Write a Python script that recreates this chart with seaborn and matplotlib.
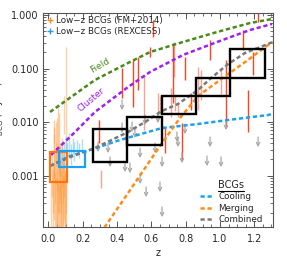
import numpy as np
import pandas as pd
import matplotlib
matplotlib.use("Agg")
import matplotlib.pyplot as plt
import seaborn as sns
from matplotlib.patches import Rectangle
from matplotlib.lines import Line2D

# ---------------- data ----------------
# model curves (z, value)
field_z = [0.009, 0.271, 0.464, 0.592, 0.784, 0.983, 1.175, 1.303]
field_v = [0.0154, 0.061, 0.127, 0.203, 0.313, 0.481, 0.708, 0.842]

cluster_z = [0.015, 0.143, 0.271, 0.464, 0.592, 0.784, 0.983, 1.175, 1.303]
cluster_v = [0.00242, 0.00597, 0.0154, 0.0451, 0.0861, 0.179, 0.313, 0.525, 0.679]

cool_z = [0.009, 0.125, 0.242, 0.417, 0.662, 0.872, 1.047, 1.280, 1.303]
cool_v = [0.00151, 0.00231, 0.0030, 0.00461, 0.00773, 0.00918, 0.0109, 0.0135, 0.0141]

merge_z = [0.30, 0.329, 0.464, 0.563, 0.662, 0.767, 0.872, 1.0, 1.146, 1.28, 1.31]
merge_v = [6e-5, 1.1e-4, 4.7e-4, 0.00138, 0.00405, 0.0119, 0.0306, 0.061, 0.132, 0.275, 0.31]

comb_z = [0.009, 0.125, 0.271, 0.464, 0.563, 0.662, 0.755, 0.872, 0.948, 1.047, 1.146, 1.28, 1.303]
comb_v = [0.00151, 0.0022, 0.00327, 0.0065, 0.0100, 0.0161, 0.0217, 0.0396, 0.0664, 0.121, 0.195, 0.287, 0.31]

# binned boxes (z range, value range)
box_z0 = [0.26, 0.46, 0.66, 0.86, 1.06]
box_z1 = [0.46, 0.66, 0.86, 1.06, 1.26]
box_lo = [0.0018, 0.0037, 0.0141, 0.0306, 0.066]
box_hi = [0.0074, 0.0124, 0.0306, 0.066, 0.231]

fm_box = [0.01, 0.11, 0.00076, 0.0027]
rex_box = [0.06, 0.21, 0.00144, 0.0029]

# high-z BCG detections (bright)
red_z = [0.294, 0.429, 0.493, 0.522, 0.592, 0.609, 0.679, 0.726, 0.778, 0.796, 0.831,
         0.942, 1.035, 1.134, 1.163, 1.192, 1.222]
red_lo = [0.00408, 0.028, 0.019, 0.0397, 0.164, 0.388, 0.00266, 0.0227, 0.00192, 0.061, 0.0168,
          0.144, 0.0081, 0.222, 0.0065, 0.0755, 0.74]
red_hi = [0.0109, 0.1025, 0.144, 0.164, 0.252, 0.81, 0.0081, 0.30, 0.0095, 0.164, 0.0348,
          0.341, 0.144, 0.524, 0.0397, 0.203, 1.5]

# fainter detections
pink_z = [0.306, 0.557, 0.638, 0.65, 0.714, 0.732, 0.738, 0.755, 0.872, 0.889, 1.006]
pink_lo = [0.00058, 0.0071, 0.0125, 0.014, 0.0125, 0.0695, 0.016, 0.0125, 0.0168, 0.0257, 0.0294]
pink_hi = [0.00127, 0.0755, 0.0348, 0.030, 0.0432, 0.313, 0.030, 0.0227, 0.107, 0.094, 0.094]

# upper limits
lim_z = [0.289, 0.347, 0.359, 0.429, 0.429, 0.446, 0.475, 0.487, 0.504, 0.534, 0.534, 0.563,
         0.569, 0.621, 0.638, 0.662, 0.662, 0.650, 0.749, 0.755, 0.796, 0.778, 0.942, 0.924,
         1.006, 1.035, 1.222]
lim_v = [0.00423, 0.00405, 0.00222, 0.0258, 0.00958, 0.00179, 0.00171, 0.0100, 0.00773, 0.00327,
         0.00107, 0.0135, 0.00061, 0.00405, 0.0147, 0.00222, 0.000258, 0.000756, 0.0065, 0.00525,
         0.00918, 0.00263, 0.00525, 0.00231, 0.00222, 0.0109, 0.00525]

# low-z samples
fm_z = [0.015, 0.02, 0.025, 0.03, 0.035, 0.04, 0.045, 0.045, 0.05, 0.055, 0.058, 0.06, 0.065,
        0.068, 0.07, 0.075, 0.08, 0.085, 0.09, 0.095, 0.10, 0.105, 0.035, 0.088,
        0.028, 0.038, 0.048, 0.052, 0.062, 0.072, 0.078, 0.082, 0.092, 0.098, 0.042, 0.066,
        0.056, 0.074, 0.086, 0.102, 0.033, 0.064]
fm_lo = [0.0001, 0.0004, 0.00009, 0.0008, 0.00015, 0.0003, 0.00009, 0.0015, 0.0005, 0.0002, 0.002,
         0.00009, 0.001, 0.00009, 0.0003, 0.00009, 0.0006, 0.00012, 0.0004, 0.00009, 0.003, 0.0002,
         0.004, 0.006,
         0.0002, 0.00009, 0.0001, 0.00009, 0.0002, 0.00009, 0.0001, 0.00009, 0.00015, 0.00009,
         0.0007, 0.0005, 0.00009, 0.0002, 0.0003, 0.00009, 0.0009, 0.0012]
fm_hi = [0.0008, 0.003, 0.0012, 0.006, 0.0015, 0.0025, 0.0009, 0.01, 0.012, 0.002, 0.02, 0.0014,
         0.004, 0.0006, 0.003, 0.0007, 0.005, 0.0018, 0.0028, 0.0011, 0.25, 0.002, 0.011, 0.03,
         0.0016, 0.0011, 0.0013, 0.0009, 0.0019, 0.0012, 0.0015, 0.001, 0.0017, 0.0012,
         0.004, 0.0035, 0.0008, 0.0022, 0.0026, 0.0013, 0.008, 0.015]

rex_z = [0.07, 0.08, 0.09, 0.10, 0.11, 0.12, 0.13, 0.14, 0.15, 0.165, 0.18, 0.195]
rex_lo = [0.0013, 0.0016, 0.0014, 0.0020, 0.0018, 0.0022, 0.0016, 0.0025, 0.0019, 0.0024, 0.0021, 0.0026]
rex_hi = [0.003, 0.0035, 0.0045, 0.0055, 0.004, 0.0062, 0.0038, 0.005, 0.0042, 0.0046, 0.0040, 0.0048]

yticks = [0.001, 0.01, 0.1, 1.0]
ytick_labels = ["0.001", "0.010", "0.100", "1.000"]
xticks = [0.0, 0.2, 0.4, 0.6, 0.8, 1.0, 1.2]
xtick_labels = ["0.0", "0.2", "0.4", "0.6", "0.8", "1.0", "1.2"]

# ---------------- style ----------------
sns.set_style("ticks")
plt.rcParams["font.family"] = ["DejaVu Sans"]

C_GREEN = "#4a8a1c"
C_PURPLE = "#a020f0"
C_BLUE = "#1ea0f0"
C_ORANGE = "#ff8c1a"
C_GRAY = "#7a7a7a"
C_RED = "#ff4422"
C_PINK = "#f7a394"
C_ARROW = "#a8a8a8"

fig = plt.figure(figsize=(2.87, 2.68), dpi=100)
ax = fig.add_axes([43 / 287, 41 / 268, 230 / 287, 214 / 268])
ax.set_yscale("log")
ax.set_xlim(-0.032, 1.309)
ax.set_ylim(1.09e-4, 1.09)

# low-z samples
ax.vlines(fm_z, fm_lo, fm_hi, color="#ff9a3c", alpha=0.45, lw=1.0, zorder=1)
ax.vlines(rex_z, rex_lo, rex_hi, color="#7cc6f2", alpha=0.6, lw=1.0, zorder=1)

# detections
ax.vlines(pink_z, pink_lo, pink_hi, color=C_PINK, lw=1.0, zorder=2)
ax.vlines(red_z, red_lo, red_hi, color=C_RED, lw=1.0, zorder=2)

# upper limits
for z, v in zip(lim_z, lim_v):
    ax.annotate("", xy=(z, v / 10 ** 0.19), xytext=(z, v),
                arrowprops=dict(arrowstyle="->", color=C_ARROW, lw=0.9,
                                shrinkA=0, shrinkB=0, mutation_scale=6),
                zorder=3)

# model curves
LW = 1.8
dash = (0, (1.7, 1.1))
curves = [(field_z, field_v, C_GREEN), (cluster_z, cluster_v, C_PURPLE),
          (cool_z, cool_v, C_BLUE), (merge_z, merge_v, C_ORANGE), (comb_z, comb_v, C_GRAY)]
for zz, vv, col in curves:
    df = pd.DataFrame({"z": zz, "v": vv})
    sns.lineplot(data=df, x="z", y="v", ax=ax, color=col, lw=LW, linestyle=dash,
                 estimator=None, sort=False, zorder=4)

# boxes
for z0, z1, lo, hi in zip(box_z0, box_z1, box_lo, box_hi):
    ax.add_patch(Rectangle((z0, lo), z1 - z0, hi - lo, fill=False, ec="black", lw=1.7, zorder=5))
ax.add_patch(Rectangle((fm_box[0], fm_box[2]), fm_box[1] - fm_box[0], fm_box[3] - fm_box[2],
                       fill=False, ec="#ff7410", lw=1.6, zorder=5))
ax.add_patch(Rectangle((rex_box[0], rex_box[2]), rex_box[1] - rex_box[0], rex_box[3] - rex_box[2],
                       fill=False, ec=C_BLUE, lw=1.6, zorder=5))

# curve labels
ax.text(0.30, 0.116, "Field", color=C_GREEN, fontsize=6.5, rotation=30,
        ha="center", va="center")
ax.text(0.248, 0.0258, "Cluster", color=C_PURPLE, fontsize=6.5, rotation=40,
        ha="center", va="center")

# axes styling
ax.set_yticks(yticks)
ax.set_yticklabels(ytick_labels)
ax.set_xticks(xticks)
ax.set_xticklabels(xtick_labels)
ax.xaxis.set_minor_locator(matplotlib.ticker.MultipleLocator(0.05))
ax.tick_params(which="both", direction="in", top=True, right=True, labelsize=7,
               color="#555555")
ax.tick_params(which="major", length=4.5, width=0.7)
ax.tick_params(which="minor", length=2.2, width=0.6)
ax.tick_params(axis="x", pad=5)
ax.tick_params(axis="y", pad=3)
for s in ax.spines.values():
    s.set_linewidth(0.8)
    s.set_color("#555555")

ax.set_xlabel("z", fontsize=7, labelpad=3)
ax.set_ylabel(r"sSFR$_{\rm BCG}$ (Gyr$^{-1}$)", fontsize=7)
ax.yaxis.set_label_coords(-0.163, 0.5)

# legends
h1 = [Line2D([], [], ls="none", marker="+", color="#ff8c1a", ms=5, mew=1.0),
      Line2D([], [], ls="none", marker="+", color=C_BLUE, ms=5, mew=1.0)]
leg1 = ax.legend(h1, ["Low\u2212z BCGs (FM+2014)", "Low\u2212z BCGs (REXCESS)"],
                 loc="upper left", bbox_to_anchor=(0.015, 0.985), frameon=False,
                 fontsize=6.3, handlelength=0.7, handletextpad=0.35, labelspacing=0.2,
                 borderpad=0, borderaxespad=0)
ax.add_artist(leg1)

h2 = [Line2D([], [], color=C_BLUE, lw=LW, ls=dash),
      Line2D([], [], color=C_ORANGE, lw=LW, ls=dash),
      Line2D([], [], color=C_GRAY, lw=LW, ls=dash)]
leg2 = ax.legend(h2, ["Cooling", "Merging", "Combined"], title="BCGs",
                 loc="lower right", bbox_to_anchor=(0.955, 0.015), frameon=False,
                 fontsize=6.3, title_fontsize=7, handlelength=1.5, handletextpad=0.6,
                 labelspacing=0.25, borderpad=0, borderaxespad=0)

fig.canvas.draw()
tb = leg2.get_title().get_window_extent()
inv = fig.transFigure.inverted()
(x0, y0), (x1, _) = inv.transform([(tb.x0, tb.y0 - 0.5), (tb.x1, tb.y0 - 0.5)])
fig.add_artist(Line2D([x0, x1], [y0, y0], color="black", lw=0.8, transform=fig.transFigure))

fig.savefig("out.png", dpi=100)
